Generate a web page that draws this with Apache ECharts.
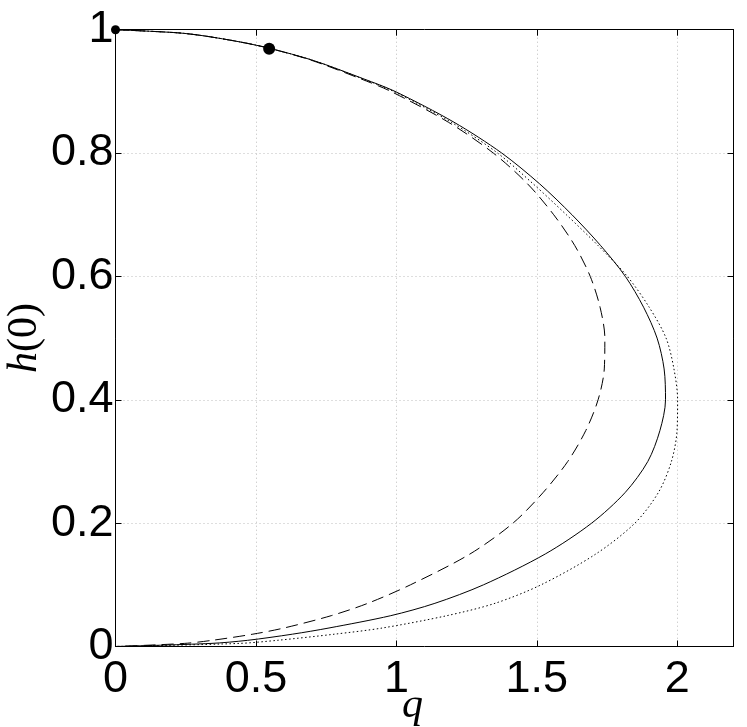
<!DOCTYPE html>
<html>
<head>
<meta charset="utf-8">
<script src="https://cdn.jsdelivr.net/npm/echarts@6/dist/echarts.min.js"></script>
<style>
html,body{margin:0;padding:0;background:#fff;}
#chart{width:747px;height:727px;}
</style>
</head>
<body>
<div id="chart"></div>
<script>
// h(0) samples (y values) and q (x values) for each curve
var hSolid  = [1.0, 0.995, 0.99, 0.98, 0.97, 0.95, 0.92, 0.9, 0.85, 0.8, 0.75, 0.7, 0.65, 0.6, 0.55, 0.5, 0.45, 0.4, 0.35, 0.3, 0.25, 0.2, 0.15, 0.1, 0.07, 0.05, 0.03, 0.02, 0.01, 0.005, 0];
var qSolid  = [0, 0.22, 0.315, 0.445, 0.547, 0.705, 0.885, 0.995, 1.205, 1.375, 1.51, 1.625, 1.727, 1.815, 1.88, 1.928, 1.953, 1.958, 1.938, 1.895, 1.815, 1.695, 1.53, 1.31, 1.137, 0.98, 0.76, 0.63, 0.47, 0.34, 0];

var hDotted = [1.0, 0.995, 0.99, 0.98, 0.97, 0.95, 0.92, 0.9, 0.85, 0.8, 0.75, 0.7, 0.65, 0.6, 0.55, 0.5, 0.45, 0.4, 0.35, 0.3, 0.25, 0.2, 0.15, 0.1, 0.07, 0.05, 0.03, 0.02, 0.01, 0.005, 0];
var qDotted = [0, 0.22, 0.315, 0.445, 0.547, 0.705, 0.882, 0.99, 1.195, 1.36, 1.487, 1.605, 1.718, 1.822, 1.90, 1.96, 1.988, 2.001, 1.999, 1.979, 1.933, 1.849, 1.71, 1.515, 1.351, 1.18, 0.95, 0.78, 0.576, 0.44, 0];

var hDashed = [1.0, 0.995, 0.99, 0.98, 0.97, 0.95, 0.92, 0.9, 0.85, 0.8, 0.75, 0.7, 0.65, 0.6, 0.55, 0.5, 0.45, 0.4, 0.35, 0.3, 0.25, 0.2, 0.15, 0.1, 0.07, 0.05, 0.03, 0.02, 0.01, 0.005, 0];
var qDashed = [0, 0.22, 0.315, 0.445, 0.547, 0.70, 0.875, 0.98, 1.185, 1.345, 1.467, 1.56, 1.635, 1.69, 1.725, 1.742, 1.74, 1.718, 1.674, 1.61, 1.523, 1.415, 1.262, 1.05, 0.898, 0.768, 0.60, 0.489, 0.344, 0.245, 0];

// marked points
var dotQ = [0, 0.547];
var dotH = [1.0, 0.969];
var dotSize = [9, 12];

// axis ticks
var xTicks = [0, 0.5, 1, 1.5, 2];
var yTicks = [0, 0.2, 0.4, 0.6, 0.8, 1];

function pairs(qs, hs) { return qs.map(function (q, i) { return [q, hs[i]]; }); }

var chart = echarts.init(document.getElementById('chart'), null, {renderer: 'canvas'});
var labelFont = {fontFamily: '"Liberation Sans", Arial, sans-serif', fontSize: 45, color: '#000'};
var gridLine = {show: true, lineStyle: {color: '#bdbdbd', type: [1, 3], width: 1}};
var serif = '"Liberation Serif", "DejaVu Serif", serif';

var option = {
  animation: false,
  backgroundColor: '#fff',
  grid: {left: 115.5, right: 13.5, top: 29.7, bottom: 80.5, containLabel: false, outerBoundsMode: 'none'},
  xAxis: [{
    type: 'value', min: 0, max: 2.2, interval: 0.5, position: 'bottom',
    axisLine: {show: true, onZero: false, lineStyle: {color: '#000', width: 1}},
    axisTick: {show: true, inside: true, length: 6, lineStyle: {color: '#000'}},
    axisLabel: Object.assign({margin: 11, showMaxLabel: false, hideOverlap: false,
      formatter: function (v) { var r = Math.round(v * 10) / 10; return xTicks.indexOf(r) >= 0 ? String(r) : ''; }}, labelFont),
    splitLine: gridLine,
    name: 'q', nameLocation: 'middle', nameGap: 38, nameMoveOverlap: false,
    nameTextStyle: {fontFamily: serif, fontStyle: 'italic', fontSize: 42, color: '#000', padding: [0, 24, 0, 0]}
  }, {
    type: 'value', min: 0, max: 2.2, interval: 0.5, position: 'top',
    axisLine: {show: true, onZero: false, lineStyle: {color: '#000', width: 1}},
    axisTick: {show: true, inside: true, length: 6, lineStyle: {color: '#000'}},
    axisLabel: {show: false}, splitLine: {show: false}
  }],
  yAxis: [{
    type: 'value', min: 0, max: 1, interval: 0.2, position: 'left',
    axisLine: {show: true, onZero: false, lineStyle: {color: '#000', width: 1}},
    axisTick: {show: true, inside: true, length: 6, lineStyle: {color: '#000'}},
    axisLabel: Object.assign({margin: 2, hideOverlap: false,
      formatter: function (v) { var r = Math.round(v * 10) / 10; return yTicks.indexOf(r) >= 0 ? String(r) : ''; }}, labelFont),
    splitLine: gridLine,
    name: '{i|h}{n|(0)}', nameLocation: 'middle', nameGap: 70, nameRotate: 90, nameMoveOverlap: false,
    nameTextStyle: {
      rich: {
        i: {fontFamily: serif, fontStyle: 'italic', fontSize: 42, color: '#000'},
        n: {fontFamily: serif, fontSize: 42, color: '#000'}
      }
    }
  }, {
    type: 'value', min: 0, max: 1, interval: 0.2, position: 'right',
    axisLine: {show: true, onZero: false, lineStyle: {color: '#000', width: 1}},
    axisTick: {show: true, inside: true, length: 6, lineStyle: {color: '#000'}},
    axisLabel: {show: false}, splitLine: {show: false}
  }],
  series: [
    {type: 'line', data: pairs(qSolid, hSolid), smooth: 0.3, showSymbol: false, symbol: 'none',
      lineStyle: {color: '#000', width: 1, type: 'solid'}, z: 3},
    {type: 'line', data: pairs(qDotted, hDotted), smooth: 0.3, showSymbol: false, symbol: 'none',
      lineStyle: {color: '#000', width: 1, type: [1.5, 2.5]}, z: 3},
    {type: 'line', data: pairs(qDashed, hDashed), smooth: 0.3, showSymbol: false, symbol: 'none',
      lineStyle: {color: '#000', width: 1, type: [12, 6]}, z: 3},
    {type: 'scatter', data: dotQ.map(function (q, i) { return {value: [q, dotH[i]], symbolSize: dotSize[i]}; }),
      itemStyle: {color: '#000', opacity: 1}, z: 10, clip: false}
  ]
};
chart.setOption(option);
</script>
</body>
</html>
